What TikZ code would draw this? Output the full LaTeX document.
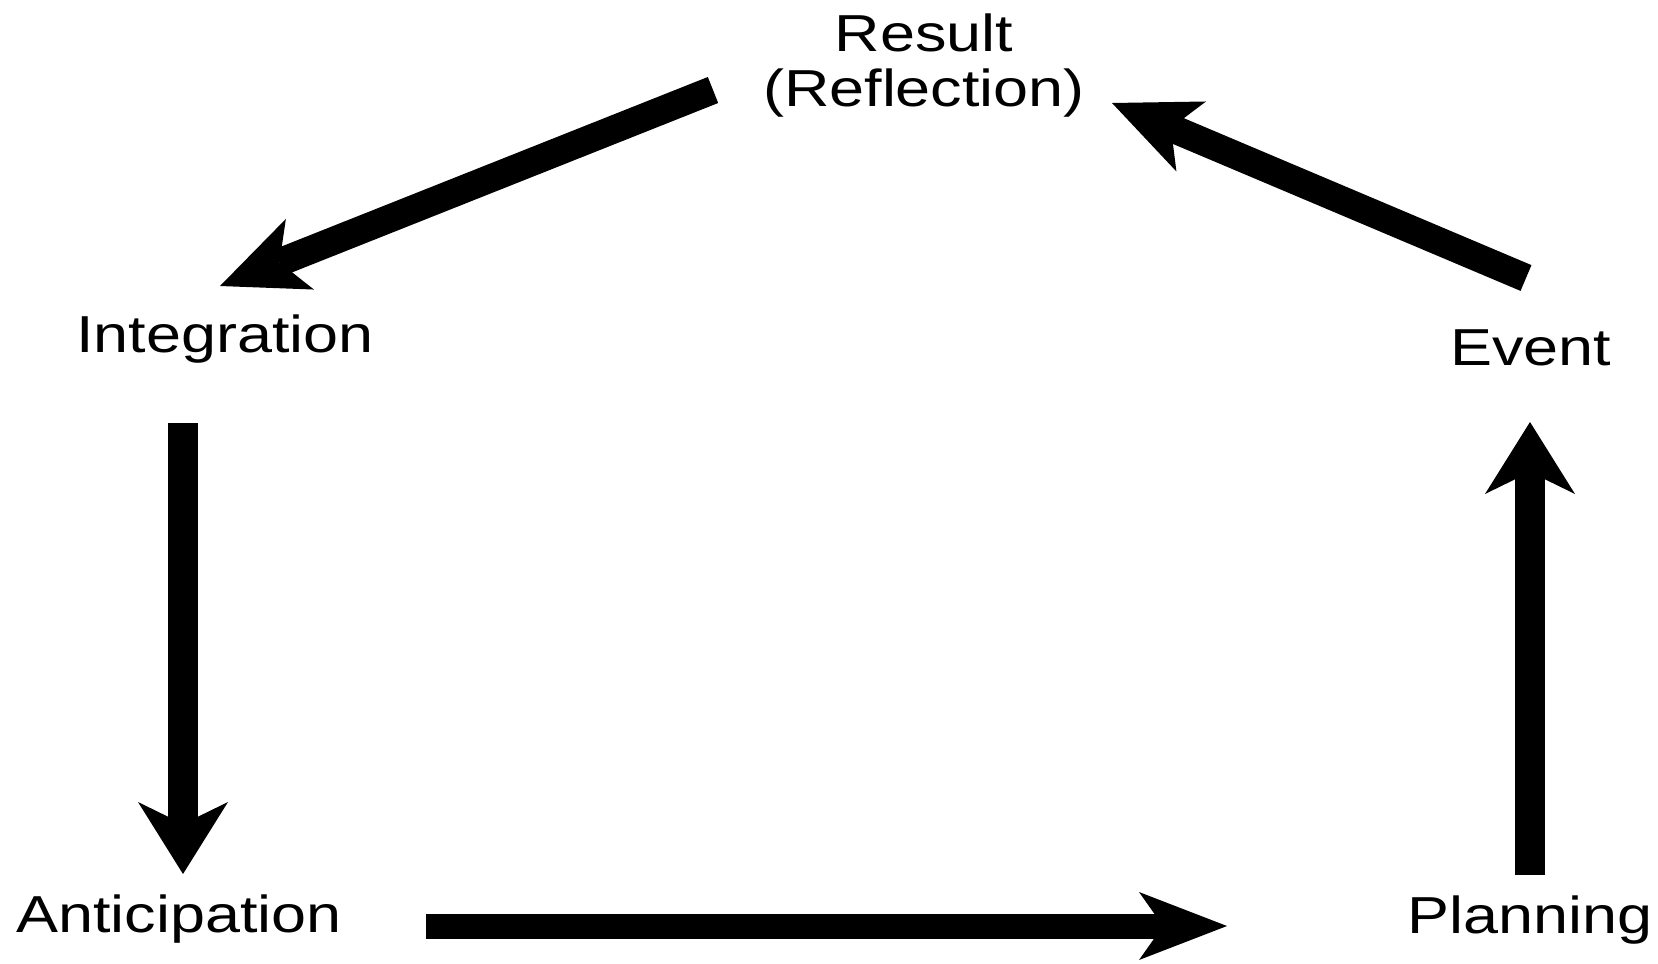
\documentclass[tikz,border=0pt]{standalone}
\usepackage{fontspec}
\setmainfont{Liberation Sans}[FakeStretch=1.21]
\usepackage{tikz}
\usetikzlibrary{arrows.meta, calc, positioning}
\tikzset{
    phase/.style={inner sep=0pt, anchor=base, align=center,
        font=\fontsize{14.8}{15.6}\selectfont},
    vflow/.style={line width=3mm,
        -{Stealth[length=7.2mm, width=9mm, inset=2.2mm, line width=0pt]}},
    hflow/.style={line width=2.5mm,
        -{Stealth[length=8.8mm, width=6.8mm, inset=2.4mm, line width=0pt]}},
    dflow/.style={line width=2.8mm,
        -{Stealth[length=8.6mm, width=7.6mm, inset=2.2mm, line width=0pt]}}
}
\newcommand{\phasenode}[3]{
    \node[phase] (#1-c) at (#2) {#3};
}
\begin{document}
\begin{tikzpicture}[x=0.1mm, y=-0.1mm]
    \useasboundingbox (0,0) rectangle (1658,963);
    \phasenode{res}{924,106}{Result\\(Reflection)}
    \phasenode{int}{225,352}{Integration}
    \phasenode{evt}{1531,365}{Event}
    \phasenode{ant}{179,932}{Anticipation}
    \phasenode{pla}{1530,933}{Planning}
    \coordinate (res-l) at (713,90);
    \coordinate (res-r) at (1112,103);
    \coordinate (int-u) at (220,286);
    \coordinate (int-d) at (183,423);
    \coordinate (ant-u) at (183,874);
    \coordinate (ant-r) at (426,926);
    \coordinate (pla-l) at (1227,926);
    \coordinate (pla-u) at (1530,875);
    \coordinate (evt-d) at (1530,422);
    \coordinate (evt-u) at (1526,278);
    \draw[dflow] (res-l) -- (int-u);
    \draw[vflow] (int-d) -- (ant-u);
    \draw[hflow] (ant-r) -- (pla-l);
    \draw[vflow] (pla-u) -- (evt-d);
    \draw[dflow] (evt-u) -- (res-r);
\end{tikzpicture}
\end{document}
